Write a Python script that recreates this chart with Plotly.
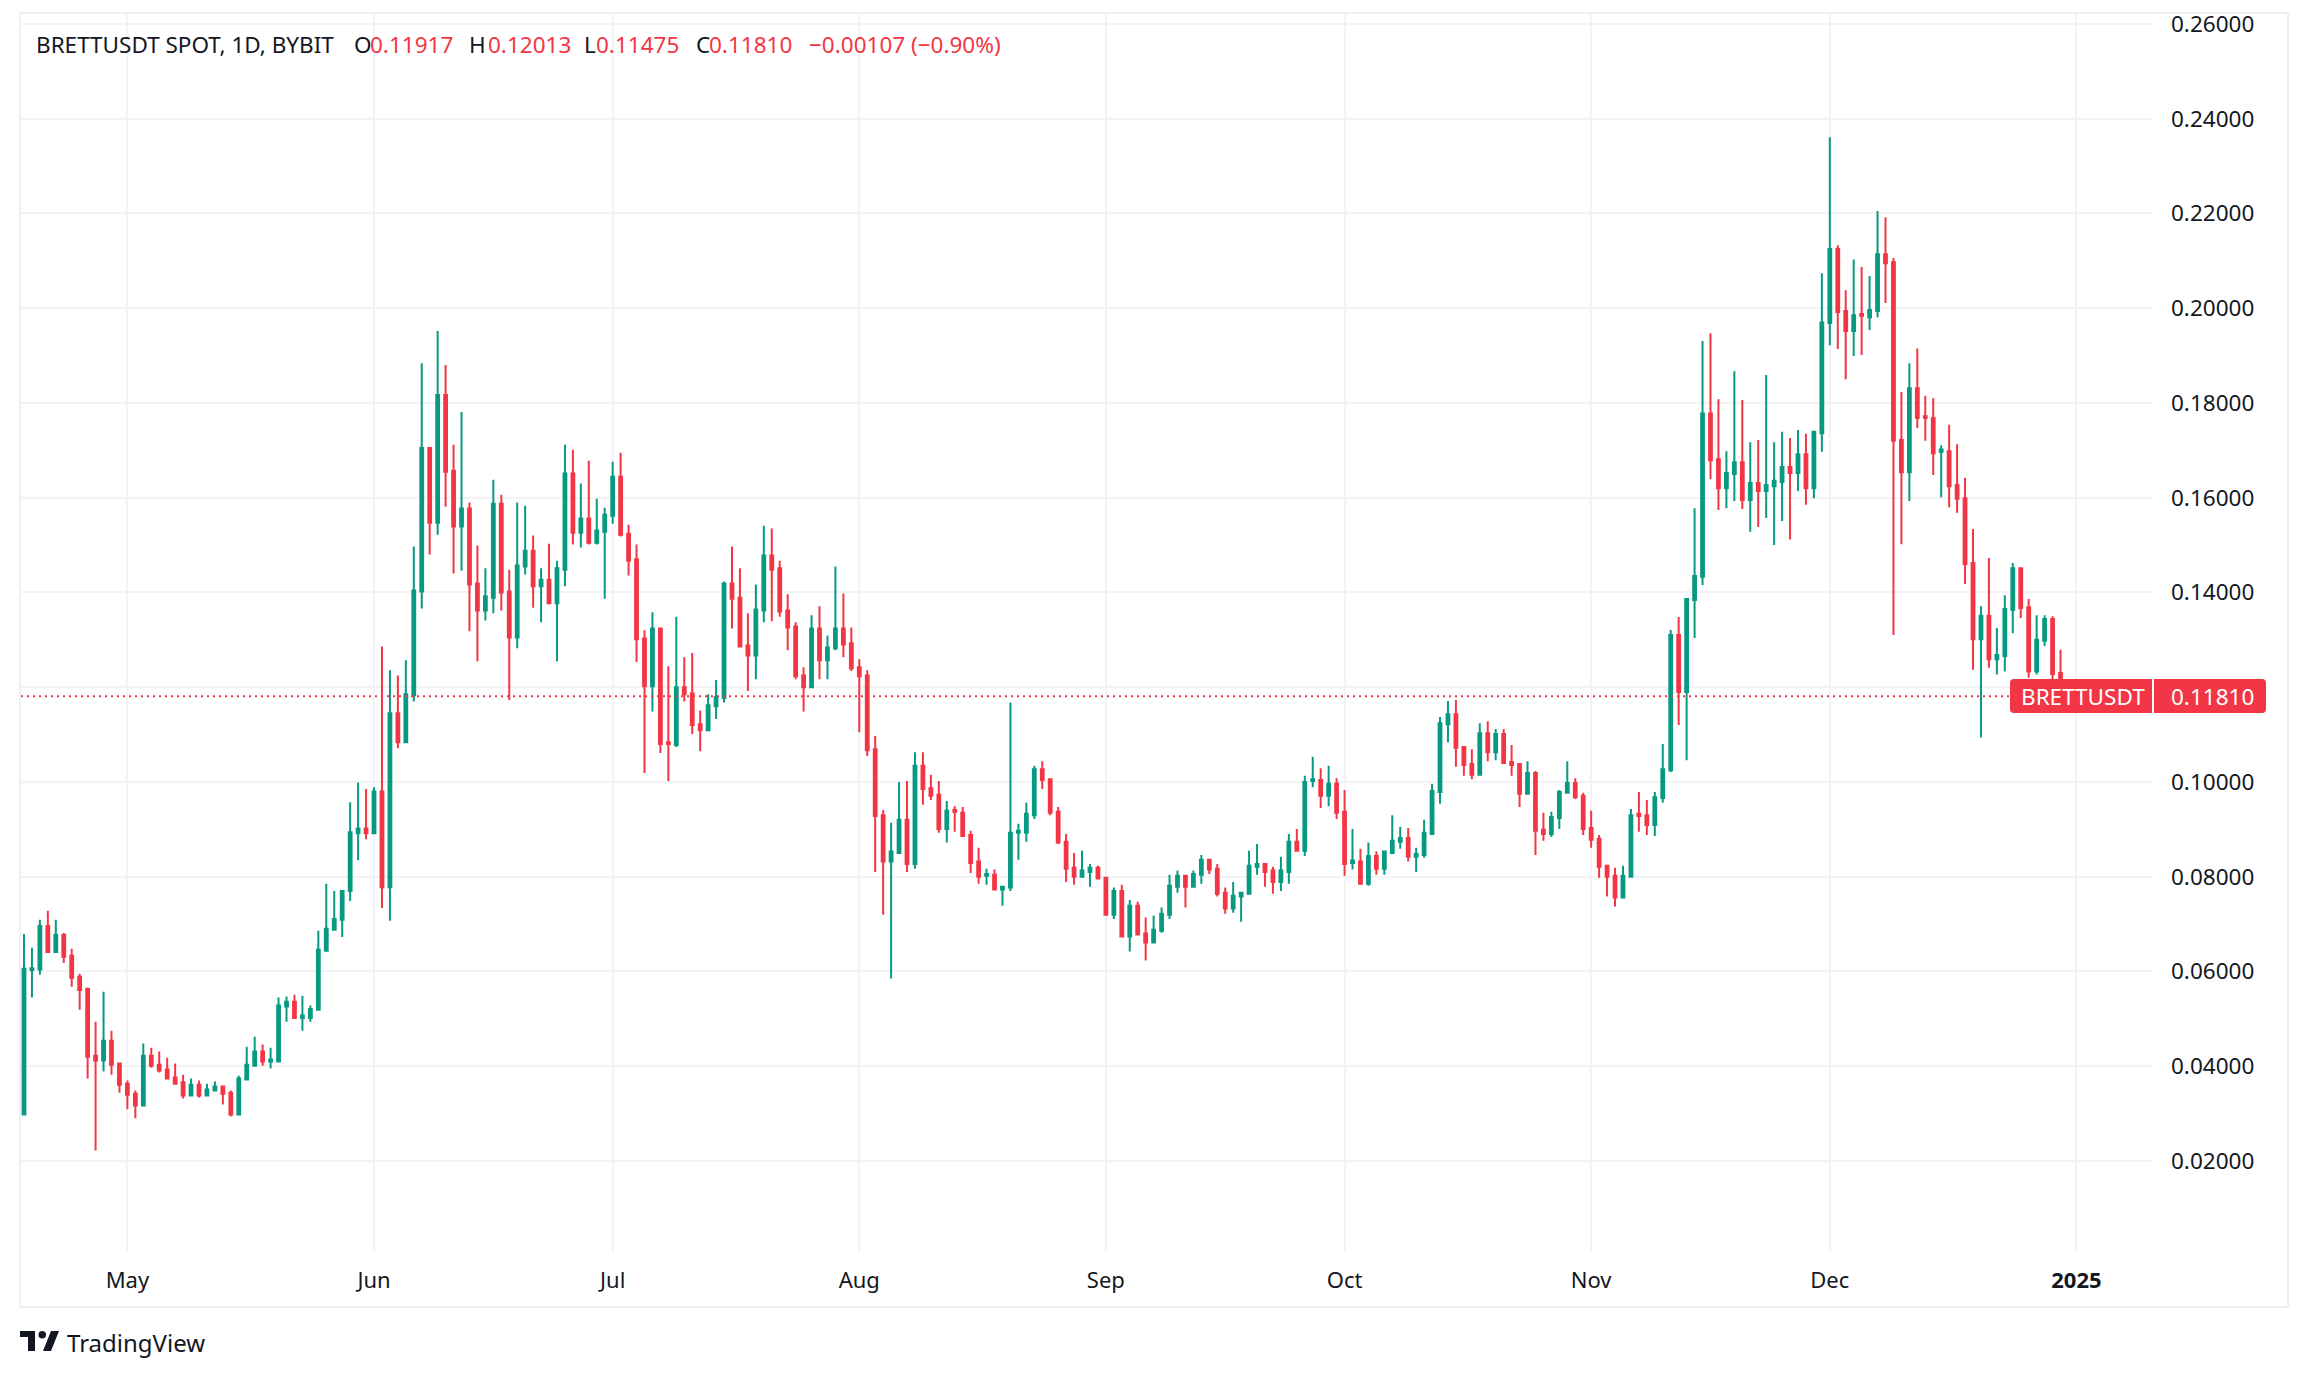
import pandas as pd
import plotly.graph_objects as go

# BRETTUSDT daily candles
first_day = "2024-04-18"

opens = [
    .0298, .0603, .0604, .0696, .0641, .0677, .0633, .0589, .0563, .0422,
    .0412, .0454, .0406, .0363, .0342, .0317, .0422, .0403, .0393, .0376,
    .0366, .0338, .0361, .0338, .0349, .0357, .0344, .0298, .0372, .0401,
    .0431, .0410, .0410, .0526, .0536, .0502, .0502, .0519, .0644, .0688,
    .0709, .0770, .0892, .0902, .0892, .0980, .0778, .1145, .1084, .1183,
    .1402, .1705, .1547, .1817, .1657, .1539, .1577, .1419, .1362, .1389,
    .1587, .1402, .1305, .1455, .1488, .1413, .1427, .1377, .1448, .1651,
    .1526, .1556, .1505, .1528, .1562, .1644, .1524, .1470, .1303, .1202,
    .1324, .1084, .1078, .1200, .1187, .1122, .1109, .1160, .1177, .1419,
    .1389, .1288, .1267, .1362, .1478, .1451, .1362, .1328, .1225, .1200,
    .1324, .1257, .1282, .1324, .1293, .1242, .1225, .1069, .0930, .0832,
    .0850, .0920, .0827, .1034, .0987, .0973, .0901, .0941, .0935, .0888,
    .0832, .0802, .0804, .0773, .0777, .0893, .0893, .0930, .1027, .1006,
    .0937, .0874, .0819, .0800, .0810, .0819, .0798, .0720, .0770, .0674,
    .0739, .0680, .0661, .0686, .0720, .0779, .0802, .0779, .0804, .0836,
    .0817, .0766, .0733, .0758, .0764, .0821, .0827, .0813, .0789, .0810,
    .0874, .0855, .1002, .1004, .0971, .0996, .0937, .0829, .0832, .0785,
    .0844, .0817, .0850, .0874, .0882, .0842, .0846, .0890, .0979, .1122,
    .1143, .1074, .1038, .1015, .1103, .1063, .1101, .1042, .1038, .0975,
    .1019, .0899, .0890, .0924, .0977, .0998, .0971, .0903, .0880, .0823,
    .0802, .0756, .0800, .0933, .0930, .0909, .0966, .1025, .1310, .1190,
    .1384, .1433, .1778, .1681, .1620, .1650, .1675, .1595, .1631, .1614,
    .1624, .1633, .1665, .1652, .1692, .1620, .1736, .1969, .2125, .1994,
    .1952, .1988, .1981, .1994, .2114, .2097, .1722, .1654, .1831, .1772,
    .1768, .1697, .1698, .1627, .1599, .1462, .1301, .1351, .1259, .1266,
    .1363, .1451, .1369, .1233, .1298, .1344, .1230, .11917,
]
highs = [
    .0679, .0650, .0709, .0728, .0709, .0681, .0648, .0595, .0566, .0494,
    .0557, .0475, .0408, .0370, .0349, .0448, .0439, .0431, .0418, .0406,
    .0382, .0374, .0370, .0363, .0368, .0359, .0349, .0380, .0441, .0462,
    .0446, .0439, .0545, .0547, .0551, .0549, .0528, .0686, .0785, .0770,
    .0772, .0957, .0999, .0985, .0989, .1286, .1236, .1225, .1257, .1497,
    .1884, .1707, .1952, .1880, .1712, .1781, .1590, .1499, .1451, .1638,
    .1606, .1448, .1590, .1583, .1520, .1451, .1503, .1467, .1712, .1701,
    .1630, .1678, .1598, .1579, .1676, .1695, .1543, .1501, .1320, .1358,
    .1324, .1244, .1349, .1263, .1272, .1151, .1185, .1215, .1423, .1497,
    .1451, .1356, .1417, .1541, .1535, .1467, .1396, .1337, .1242, .1352,
    .1371, .1309, .1455, .1398, .1326, .1259, .1236, .1097, .0941, .0914,
    .1000, .1002, .1063, .1063, .1015, .1002, .0960, .0949, .0947, .0897,
    .0861, .0817, .0815, .0781, .1168, .0912, .0956, .1034, .1044, .1006,
    .0947, .0890, .0850, .0855, .0827, .0823, .0800, .0777, .0783, .0751,
    .0747, .0714, .0718, .0735, .0804, .0813, .0802, .0813, .0846, .0838,
    .0827, .0777, .0789, .0766, .0855, .0869, .0829, .0821, .0842, .0890,
    .0901, .1013, .1053, .1029, .1034, .1008, .0983, .0901, .0859, .0872,
    .0853, .0855, .0930, .0905, .0903, .0861, .0920, .0996, .1137, .1171,
    .1173, .1076, .1069, .1124, .1128, .1112, .1112, .1078, .1040, .1044,
    .1023, .0935, .0937, .0983, .1044, .1008, .0977, .0939, .0888, .0825,
    .0819, .0823, .0943, .0979, .0962, .0979, .1080, .1321, .1348, .1386,
    .1578, .1931, .1947, .1808, .1698, .1867, .1806, .1717, .1722, .1859,
    .1717, .1739, .1726, .1743, .1735, .1739, .2074, .2361, .2133, .2038,
    .2103, .2087, .2068, .2205, .2192, .2106, .1823, .1884, .1915, .1815,
    .1810, .1711, .1754, .1713, .1642, .1534, .1371, .1473, .1325, .1394,
    .1462, .1451, .1386, .1352, .1352, .1350, .1279, .12013,
]
lows = [
    .0298, .0545, .0593, .0639, .0641, .0618, .0568, .0519, .0374, .0222,
    .0389, .0382, .0344, .0309, .0290, .0315, .0397, .0387, .0374, .0361,
    .0332, .0338, .0334, .0338, .0349, .0319, .0294, .0298, .0372, .0399,
    .0401, .0395, .0410, .0494, .0500, .0475, .0494, .0517, .0644, .0688,
    .0673, .0749, .0835, .0879, .0892, .0734, .0707, .1071, .1082, .1170,
    .1366, .1480, .1522, .1581, .1440, .1446, .1318, .1255, .1341, .1356,
    .1362, .1173, .1282, .1438, .1368, .1337, .1375, .1255, .1413, .1501,
    .1495, .1501, .1501, .1387, .1545, .1518, .1436, .1253, .1019, .1149,
    .1061, .1002, .1074, .1170, .1101, .1065, .1107, .1133, .1168, .1324,
    .1286, .1192, .1217, .1337, .1339, .1349, .1278, .1217, .1149, .1198,
    .1217, .1217, .1278, .1263, .1234, .1105, .1055, .0810, .0720, .0585,
    .0850, .0810, .0817, .0952, .0962, .0893, .0872, .0895, .0886, .0808,
    .0785, .0783, .0773, .0739, .0770, .0836, .0874, .0922, .0985, .0930,
    .0869, .0789, .0783, .0798, .0779, .0794, .0718, .0711, .0674, .0642,
    .0676, .0623, .0659, .0682, .0711, .0766, .0735, .0779, .0785, .0806,
    .0758, .0722, .0724, .0705, .0764, .0804, .0779, .0764, .0770, .0785,
    .0853, .0844, .0989, .0945, .0949, .0922, .0802, .0815, .0783, .0781,
    .0804, .0804, .0848, .0859, .0832, .0810, .0840, .0890, .0954, .1084,
    .1032, .1013, .1006, .1013, .1044, .1046, .1038, .1013, .0947, .0973,
    .0846, .0876, .0884, .0901, .0977, .0964, .0888, .0861, .0798, .0758,
    .0737, .0756, .0800, .0895, .0888, .0886, .0956, .1021, .1120, .1046,
    .1304, .1416, .1639, .1574, .1578, .1593, .1576, .1528, .1538, .1557,
    .1500, .1551, .1512, .1614, .1585, .1599, .1697, .1922, .1914, .1850,
    .1899, .1901, .1954, .1981, .2011, .1310, .1502, .1593, .1747, .1720,
    .1648, .1601, .1580, .1568, .1418, .1237, .1094, .1241, .1227, .1233,
    .1314, .1346, .1220, .1227, .1287, .1190, .1175, .11475,
]
closes = [
    .0606, .0607, .0696, .0641, .0677, .0631, .0587, .0561, .0420, .0412,
    .0454, .0403, .0361, .0340, .0317, .0422, .0401, .0391, .0374, .0363,
    .0338, .0361, .0338, .0351, .0357, .0342, .0298, .0374, .0403, .0431,
    .0410, .0414, .0528, .0536, .0502, .0507, .0521, .0646, .0690, .0711,
    .0770, .0894, .0902, .0892, .0980, .0778, .1145, .1084, .1185, .1404,
    .1705, .1547, .1817, .1655, .1539, .1577, .1417, .1362, .1392, .1587,
    .1400, .1305, .1457, .1488, .1413, .1427, .1377, .1451, .1651, .1526,
    .1556, .1505, .1531, .1564, .1644, .1522, .1467, .1301, .1202, .1324,
    .1080, .1080, .1200, .1185, .1120, .1109, .1162, .1179, .1419, .1387,
    .1286, .1267, .1364, .1478, .1448, .1360, .1326, .1223, .1200, .1324,
    .1257, .1284, .1324, .1290, .1240, .1223, .1067, .0928, .0832, .0853,
    .0920, .0827, .1034, .0985, .0971, .0901, .0939, .0937, .0886, .0829,
    .0800, .0806, .0773, .0779, .0893, .0897, .0933, .1027, .1004, .0935,
    .0872, .0817, .0800, .0813, .0819, .0796, .0720, .0770, .0674, .0739,
    .0678, .0661, .0688, .0722, .0781, .0802, .0779, .0806, .0836, .0815,
    .0764, .0733, .0760, .0766, .0823, .0827, .0810, .0789, .0813, .0874,
    .0855, .1000, .1006, .0971, .0996, .0935, .0827, .0834, .0785, .0844,
    .0817, .0853, .0876, .0882, .0842, .0848, .0893, .0981, .1124, .1143,
    .1072, .1036, .1015, .1103, .1063, .1101, .1040, .1036, .0975, .1019,
    .0897, .0890, .0926, .0979, .0998, .0968, .0901, .0878, .0821, .0800,
    .0756, .0802, .0930, .0928, .0909, .0968, .1027, .1310, .1190, .1386,
    .1435, .1778, .1679, .1620, .1652, .1675, .1595, .1631, .1614, .1627,
    .1636, .1665, .1652, .1692, .1620, .1739, .1970, .2125, .1992, .1952,
    .1985, .1984, .1996, .2114, .2095, .1720, .1654, .1831, .1768, .1768,
    .1694, .1702, .1624, .1598, .1460, .1301, .1351, .1259, .1268, .1365,
    .1451, .1367, .1233, .1300, .1344, .1228, .1192, .1181,
]

y_ticks = [.02, .04, .06, .08, .10, .12, .14, .16, .18, .20, .22, .24, .26]
# 0.12000 sits behind the price tag in the reference, so its label stays blank
y_labels = ["0.02000", "0.04000", "0.06000", "0.08000", "0.10000", "", "0.14000",
            "0.16000", "0.18000", "0.20000", "0.22000", "0.24000", "0.26000"]
month_ticks = ["2024-05-01", "2024-06-01", "2024-07-01", "2024-08-01", "2024-09-01",
               "2024-10-01", "2024-11-01", "2024-12-01", "2025-01-01"]
month_labels = ["May", "Jun", "Jul", "Aug", "Sep", "Oct", "Nov", "Dec", "<b>2025</b>"]
symbol_line = "BRETTUSDT SPOT, 1D, BYBIT"
change_line = "\u22120.00107 (\u22120.90%)"

GREEN = "#089981"
RED = "#f23645"
INK = "#131722"
GRID = "#f3f3f5"
BORDER = "#eeeef4"
FONT = "Noto Sans"

W, H = 2308, 1377
L, R, T, B = 21, 156, 14, 126

days = pd.date_range(first_day, periods=len(opens), freq="D")


# page pixels -> paper fractions, only for the decoration around the plot
def px(x):
    return (x - L) / (W - L - R)


def py(y):
    return 1 - (y - T) / (H - T - B)


def rounded(x0, y0, x1, y1, left=True, right=True, r=4):
    a, b = (r if left else 0), (r if right else 0)
    return (f"M {px(x0 + a)} {py(y0)} L {px(x1 - b)} {py(y0)} "
            f"Q {px(x1)} {py(y0)} {px(x1)} {py(y0 + b)} L {px(x1)} {py(y1 - b)} "
            f"Q {px(x1)} {py(y1)} {px(x1 - b)} {py(y1)} L {px(x0 + a)} {py(y1)} "
            f"Q {px(x0)} {py(y1)} {px(x0)} {py(y1 - a)} L {px(x0)} {py(y0 + a)} "
            f"Q {px(x0)} {py(y0)} {px(x0 + a)} {py(y0)} Z")


def label(text, x, y, color=INK, size=22.5, anchor="left"):
    return dict(text=text, x=px(x), y=py(y), xref="paper", yref="paper", showarrow=False,
                xanchor=anchor, yanchor="middle", borderpad=0,
                font=dict(family=FONT, size=size, color=color))


fig = go.Figure(go.Candlestick(
    x=days, open=opens, high=highs, low=lows, close=closes,
    increasing=dict(line=dict(color=GREEN, width=2), fillcolor=GREEN),
    decreasing=dict(line=dict(color=RED, width=2), fillcolor=RED),
    whiskerwidth=0, hoverinfo="skip", showlegend=False,
))

shapes = [
    # outer frame
    dict(type="rect", xref="paper", yref="paper", x0=px(20), x1=px(2288), y0=py(13), y1=py(1307),
         line=dict(color=BORDER, width=2), layer="below"),
    # last price line
    dict(type="line", xref="paper", yref="y", x0=0, x1=px(2010), y0=closes[-1], y1=closes[-1],
         line=dict(color=RED, width=2, dash="2px,4px")),
    # price tags
    dict(type="path", xref="paper", yref="paper", path=rounded(2010, 679, 2152, 713, right=False),
         fillcolor=RED, line=dict(width=0)),
    dict(type="path", xref="paper", yref="paper", path=rounded(2154, 679, 2266, 713, left=False),
         fillcolor=RED, line=dict(width=0)),
    # logo
    dict(type="path", xref="paper", yref="paper", fillcolor=INK, line=dict(width=0),
         path=f"M {px(20)} {py(1331)} L {px(35)} {py(1331)} L {px(35)} {py(1351)} L {px(28)} {py(1351)} "
              f"L {px(28)} {py(1337)} L {px(20)} {py(1337)} Z"),
    dict(type="circle", xref="paper", yref="paper", fillcolor=INK, line=dict(width=0),
         x0=px(38.5), x1=px(46), y0=py(1331), y1=py(1338.5)),
    dict(type="path", xref="paper", yref="paper", fillcolor=INK, line=dict(width=0),
         path=f"M {px(51)} {py(1331)} L {px(59)} {py(1331)} L {px(51)} {py(1351)} L {px(43)} {py(1351)} Z"),
]

annotations = [
    label(symbol_line, 35, 44),
    label("O", 353, 44), label(f"{opens[-1]:.5f}", 369, 44, RED),
    label("H", 468, 44), label(f"{highs[-1]:.5f}", 487, 44, RED),
    label("L", 583, 44), label(f"{lows[-1]:.5f}", 595, 44, RED),
    label("C", 695, 44), label(f"{closes[-1]:.5f}", 708, 44, RED),
    label(change_line, 808, 44, RED),
    label("BRETTUSDT", 2020, 696, "white"),
    label(f"{closes[-1]:.5f}", 2170, 696, "white"),
    label("TradingView", 66, 1342, INK, 24),
]

fig.update_layout(
    width=W, height=H,
    margin=dict(l=L, r=R, t=T, b=B, pad=0, autoexpand=False),
    paper_bgcolor="white", plot_bgcolor="white",
    boxgap=0.5,
    font=dict(family=FONT, size=22.5, color=INK),
    shapes=shapes, annotations=annotations,
    xaxis=dict(
        type="date", range=["2024-04-17 15:00", "2025-01-10 12:00"], automargin=False,
        rangeslider=dict(visible=False),
        tickmode="array", tickvals=month_ticks, ticktext=month_labels,
        ticks="", ticklabelstandoff=14, tickangle=0, tickfont=dict(size=22),
        showgrid=True, gridcolor=GRID, gridwidth=2, zeroline=False, showline=False,
    ),
    yaxis=dict(
        side="right", range=[.001, .2621], automargin=False,
        tickmode="array", tickvals=y_ticks, ticktext=y_labels,
        ticks="", ticklabelstandoff=18,
        showgrid=True, gridcolor=GRID, gridwidth=2, zeroline=False, showline=False,
    ),
)

fig.write_html("out.html", config=dict(displayModeBar=False),
               post_script="document.body.style.margin='0';document.body.style.overflow='hidden';")
